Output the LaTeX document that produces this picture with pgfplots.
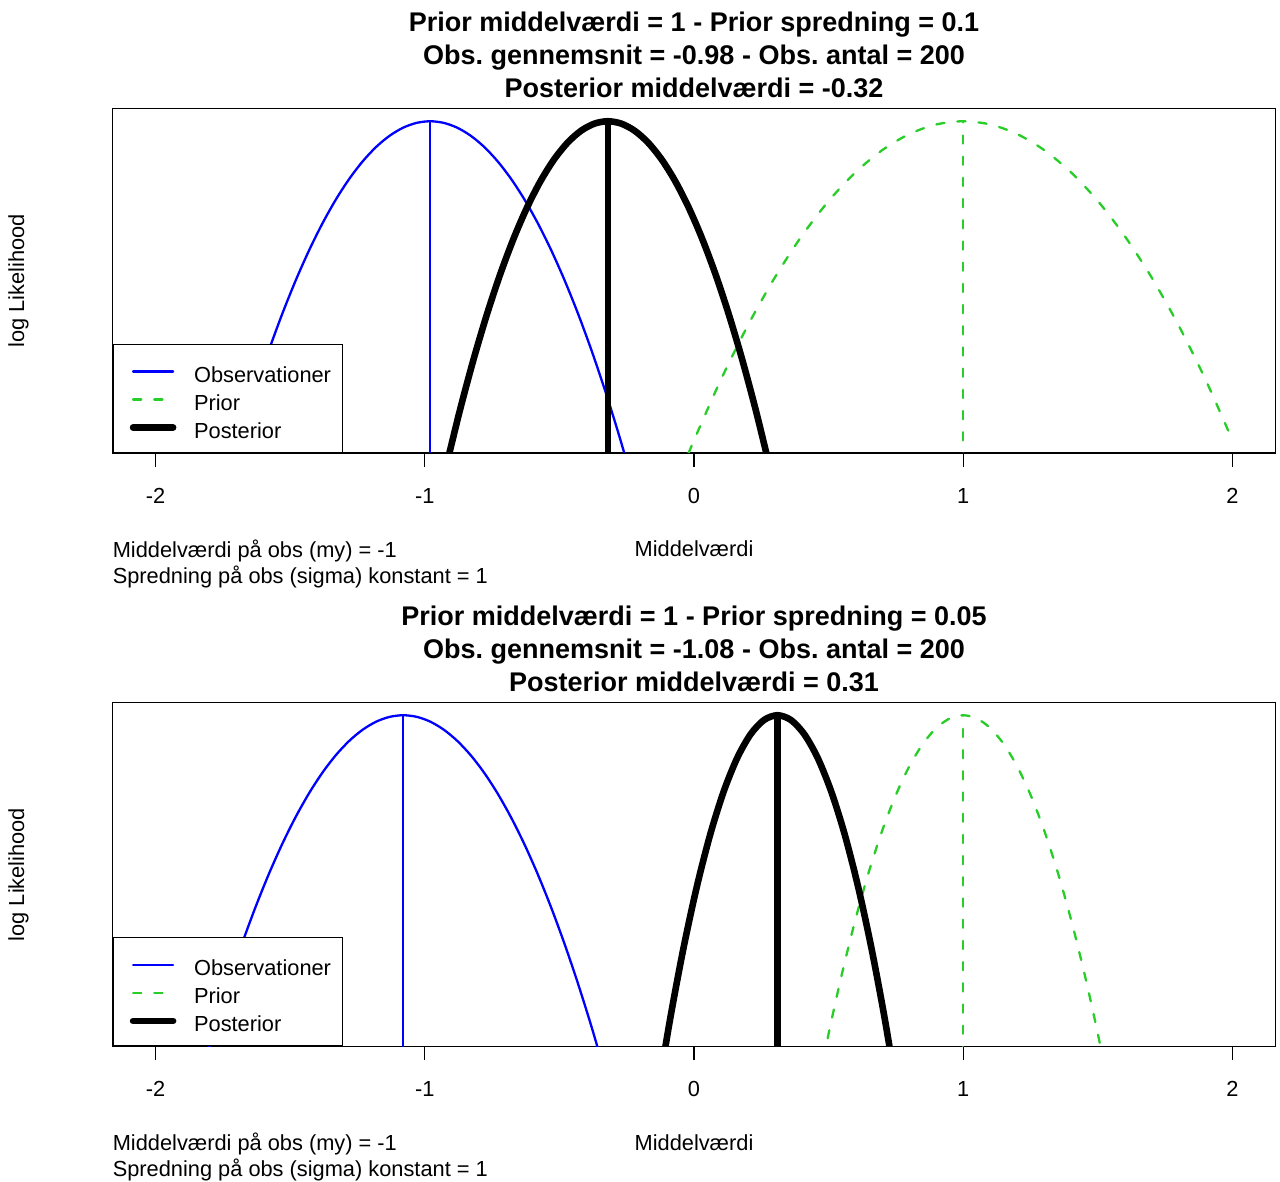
\documentclass[border=0pt]{standalone}
\usepackage{fontspec}
\setmainfont{Liberation Sans}
\usepackage{pgfplots}
\pgfplotsset{compat=1.18}
\frenchspacing
\definecolor{rgreen}{RGB}{40,205,40}
\newcommand{\fnorm}{\fontsize{10.9}{13.1}\selectfont}
\newcommand{\ftitle}{\bfseries\fontsize{13.5}{16.4}\selectfont}
\pgfplotsset{
  rpanel/.style={
    scale only axis, width=581.5pt, height=172.25pt,
    xmin=-2.16, xmax=2.16, ymin=-52, ymax=2,
    xtick={-2,-1,0,1,2}, xticklabels={-2,-1,0,1,2},
    ytick=\empty,
    xtick pos=left, tick align=outside, major tick length=7pt,
    tick style={black, line width=0.6pt},
    axis line style={black, line width=0.75pt},
    xticklabel style={font=\fnorm, anchor=base, inner sep=0pt, yshift=-18.25pt},
    title style={at={(0.5,1)}, anchor=south, yshift=-0.85pt, inner sep=0pt, align=center, font=\ftitle},
    xlabel={Middelværdi},
    xlabel style={at={(axis description cs:0.5,0)}, anchor=base, yshift=-52pt, inner sep=0pt, font=\fnorm},
    ylabel={log Likelihood},
    ylabel style={at={(axis description cs:-0.0808,0.5)}, anchor=center, inner sep=0pt, font=\fnorm},
    legend style={at={(0,0)}, anchor=south west, draw=black, line width=0.6pt, fill=white,
      inner xsep=5.75pt, inner ysep=6.95pt, row sep=1.9pt, column sep=6.75pt, font=\fnorm,
      nodes={inner sep=0pt, text height=12pt, text depth=0.1pt}, cells={anchor=base west}},
    legend image code/.code={\path[draw=none,fill=none] (0pt,0pt) -- (28pt,0pt); \draw[#1] (4.25pt,5.4pt) -- (24.25pt,5.4pt);},
    every axis plot/.append style={line cap=round, line join=round},
  },
  obs/.style={draw=blue, line width=1.15pt, smooth},
  pri/.style={draw=rgreen, line width=1.15pt, dash pattern=on 4.1pt off 6.5pt, smooth},
  post/.style={draw=black, line width=3.3pt, smooth},
}
\begin{document}
\begin{tikzpicture}
\useasboundingbox (0,0) rectangle (640pt,591pt);
% ---------------- Panel 1 ----------------
\begin{axis}[rpanel, at={(56.25pt,364.5pt)}, anchor=south west,
  title={Prior middelværdi = 1 - Prior spredning = 0.1\\Obs. gennemsnit = -0.98 - Obs. antal = 200\\Posterior middelværdi = -0.32}]
\addplot[obs] coordinates {(-1.73,-56.25) (-1.68,-49) (-1.63,-42.25) (-1.58,-36) (-1.53,-30.25) (-1.48,-25) (-1.43,-20.25) (-1.38,-16) (-1.33,-12.25) (-1.28,-9) (-1.23,-6.25) (-1.18,-4) (-1.13,-2.25) (-1.08,-1) (-1.03,-0.25) (-0.98,0) (-0.93,-0.25) (-0.88,-1) (-0.83,-2.25) (-0.78,-4) (-0.73,-6.25) (-0.68,-9) (-0.63,-12.25) (-0.58,-16) (-0.53,-20.25) (-0.48,-25) (-0.43,-30.25) (-0.38,-36) (-0.33,-42.25) (-0.28,-49) (-0.23,-56.25)};
\addlegendentry{Observationer}
\addplot[pri] coordinates {(-0.05,-55.125) (0,-50) (0.1,-40.5) (0.2,-32) (0.3,-24.5) (0.4,-18) (0.5,-12.5) (0.6,-8) (0.7,-4.5) (0.8,-2) (0.9,-0.5) (1,0) (1.1,-0.5) (1.2,-2) (1.3,-4.5) (1.4,-8) (1.5,-12.5) (1.6,-18) (1.7,-24.5) (1.8,-32) (1.9,-40.5) (2,-50)};
\addlegendentry{Prior}
\addplot[post] coordinates {(-0.92,-54) (-0.87,-45.375) (-0.82,-37.5) (-0.77,-30.375) (-0.72,-24) (-0.67,-18.375) (-0.62,-13.5) (-0.57,-9.375) (-0.52,-6) (-0.47,-3.375) (-0.42,-1.5) (-0.37,-0.375) (-0.32,0) (-0.27,-0.375) (-0.22,-1.5) (-0.17,-3.375) (-0.12,-6) (-0.07,-9.375) (-0.02,-13.5) (0.03,-18.375) (0.08,-24) (0.13,-30.375) (0.18,-37.5) (0.23,-45.375) (0.28,-54)};
\addlegendentry{Posterior}
\addplot[obs, forget plot] coordinates {(-0.98,-60) (-0.98,0)};
\addplot[pri, forget plot] coordinates {(1,-60) (1,0)};
\addplot[post, forget plot] coordinates {(-0.32,-60) (-0.32,0)};
\end{axis}
% ---------------- Panel 2 ----------------
\begin{axis}[rpanel, height=172pt, at={(56.25pt,67.75pt)}, anchor=south west,
  title={Prior middelværdi = 1 - Prior spredning = 0.05\\Obs. gennemsnit = -1.08 - Obs. antal = 200\\Posterior middelværdi = 0.31}]
\addplot[obs] coordinates {(-1.83,-56.25) (-1.78,-49) (-1.73,-42.25) (-1.68,-36) (-1.63,-30.25) (-1.58,-25) (-1.53,-20.25) (-1.48,-16) (-1.43,-12.25) (-1.38,-9) (-1.33,-6.25) (-1.28,-4) (-1.23,-2.25) (-1.18,-1) (-1.13,-0.25) (-1.08,0) (-1.03,-0.25) (-0.98,-1) (-0.93,-2.25) (-0.88,-4) (-0.83,-6.25) (-0.78,-9) (-0.73,-12.25) (-0.68,-16) (-0.63,-20.25) (-0.58,-25) (-0.53,-30.25) (-0.48,-36) (-0.43,-42.25) (-0.38,-49) (-0.33,-56.25)};
\addlegendentry{Observationer}
\addplot[pri] coordinates {(0.45,-60.5) (0.5,-50) (0.55,-40.5) (0.6,-32) (0.65,-24.5) (0.7,-18) (0.75,-12.5) (0.8,-8) (0.85,-4.5) (0.9,-2) (0.95,-0.5) (1,0) (1.05,-0.5) (1.1,-2) (1.15,-4.5) (1.2,-8) (1.25,-12.5) (1.3,-18) (1.35,-24.5) (1.4,-32) (1.45,-40.5) (1.5,-50) (1.55,-60.5)};
\addlegendentry{Prior}
\addplot[post] coordinates {(-0.14,-60.75) (-0.09,-48) (-0.04,-36.75) (0.01,-27) (0.06,-18.75) (0.11,-12) (0.16,-6.75) (0.21,-3) (0.26,-0.75) (0.31,0) (0.36,-0.75) (0.41,-3) (0.46,-6.75) (0.51,-12) (0.56,-18.75) (0.61,-27) (0.66,-36.75) (0.71,-48) (0.76,-60.75)};
\addlegendentry{Posterior}
\addplot[obs, forget plot] coordinates {(-1.08,-60) (-1.08,0)};
\addplot[pri, forget plot] coordinates {(1,-60) (1,0)};
\addplot[post, forget plot] coordinates {(0.31,-60) (0.31,0)};
\end{axis}
% ---------------- sub texts ----------------
\node[anchor=base west, inner sep=0pt, font=\fnorm] at (56.2pt,312.25pt) {Middelværdi på obs (my) = -1};
\node[anchor=base west, inner sep=0pt, font=\fnorm] at (56.2pt,299.25pt) {Spredning på obs (sigma) konstant = 1};
\node[anchor=base west, inner sep=0pt, font=\fnorm] at (56.2pt,15.5pt) {Middelværdi på obs (my) = -1};
\node[anchor=base west, inner sep=0pt, font=\fnorm] at (56.2pt,2.5pt) {Spredning på obs (sigma) konstant = 1};
\end{tikzpicture}
\end{document}
